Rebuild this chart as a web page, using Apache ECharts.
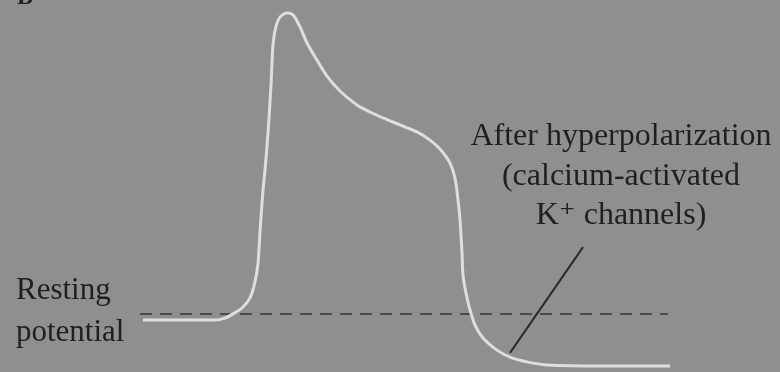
<!DOCTYPE html>
<html>
<head>
<meta charset="utf-8">
<script src="https://cdn.jsdelivr.net/npm/echarts@6/dist/echarts.min.js"></script>
<style>
html,body{margin:0;padding:0;background:#8f8f8f;}
#chart{width:780px;height:372px;}
</style>
</head>
<body>
<div id="chart"></div>
<script>
// Time (arbitrary ms units) and membrane potential (mV)
var timeMs = [14.3,18.0,21.5,22.5,23.3,24.2,25.0,25.5,25.8,26.0,26.3,26.5,26.8,27.1,27.3,27.6,28.0,28.7,29.3,30.0,30.7,31.7,32.7,34.0,35.7,37.0,38.3,40.0,41.7,43.0,44.0,45.0,45.5,45.8,46.0,46.2,46.3,46.6,47.0,47.5,48.3,49.7,51.0,52.7,54.7,60.0,67.0];
var potentialMv = [-70.0,-70.0,-70.0,-69.3,-67.8,-65.7,-62.1,-56.4,-49.7,-38.6,-23.7,-16.6,-3.4,13.7,28.0,34.7,37.9,39.4,38.7,34.4,28.7,22.6,16.9,11.6,6.6,4.1,2.0,-0.5,-3.0,-5.9,-9.1,-14.1,-19.4,-27.2,-34.4,-46.1,-54.0,-60.4,-66.4,-71.8,-76.4,-80.7,-83.2,-84.9,-86.0,-86.4,-86.4];
var restingLevelMv = -67.8;
var restingSpan = [14.0, 66.8];
var pointerTime = [58.3, 51.0];
var pointerMv = [-44.0, -81.7];
var labelLinesRight = ['After hyperpolarization', '(calcium-activated', 'K\u207A channels)'];
var labelLinesLeft = ['Resting', 'potential'];

var curveData = timeMs.map(function(t, i){ return [t, potentialMv[i]]; });
var restData = restingSpan.map(function(t){ return [t, restingLevelMv]; });
var pointerData = pointerTime.map(function(t, i){ return [t, pointerMv[i]]; });

var chart = echarts.init(document.getElementById('chart'), null, {renderer:'canvas'});
var font = '"Liberation Serif", "DejaVu Serif", serif';
var txtColor = '#1f1f1f';
var graphics = [];
labelLinesRight.forEach(function(s, i){
  graphics.push({type:'text', x:621, y:153 + i*39.5, style:{text:s, font:'32px ' + font, fill:txtColor, textAlign:'center', textVerticalAlign:'bottom'}});
});
labelLinesLeft.forEach(function(s, i){
  graphics.push({type:'text', x:16, y:306 + i*42, style:{text:s, font:'31px ' + font, fill:txtColor, textAlign:'left', textVerticalAlign:'bottom'}});
});
graphics.push({type:'text', x:17, y:10, style:{text:'B', font:'bold 24px ' + font, fill:'#222', textAlign:'left', textVerticalAlign:'bottom'}});

chart.setOption({
  backgroundColor:'#8f8f8f',
  animation:false,
  grid:{left:0, right:0, top:0, bottom:1.4},
  xAxis:{type:'value', min:0, max:78, show:false},
  yAxis:{type:'value', min:-88, max:44, show:false},
  graphic:graphics,
  series:[
    {type:'line', data:restData, symbol:'none', lineStyle:{color:'#4a4a4a', width:2, type:[12,8]}, z:1},
    {type:'line', data:curveData, symbol:'none', smooth:0.3, lineStyle:{color:'#dedede', width:3}, z:2},
    {type:'line', data:pointerData, symbol:'none', lineStyle:{color:'#2a2a2a', width:2}, z:3}
  ]
});
</script>
</body>
</html>
